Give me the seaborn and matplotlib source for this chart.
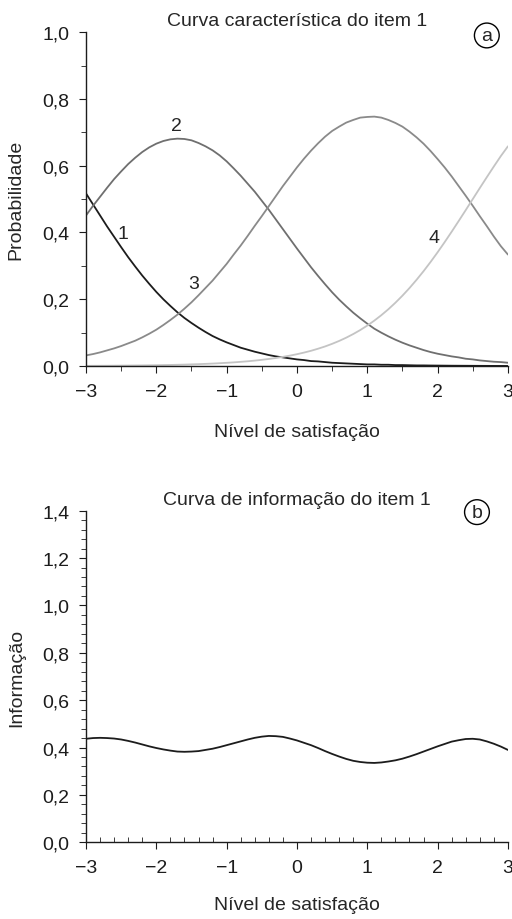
import pandas as pd
import numpy as np
import matplotlib
matplotlib.use("Agg")
import matplotlib.pyplot as plt
import seaborn as sns
from matplotlib.ticker import MultipleLocator, FuncFormatter

# Nível de satisfação (theta)
theta = [-3.0, -2.9, -2.8, -2.7, -2.6, -2.5, -2.4, -2.3, -2.2, -2.1,
         -2.0, -1.9, -1.8, -1.7, -1.6, -1.5, -1.4, -1.3, -1.2, -1.1,
         -1.0, -0.9, -0.8, -0.7, -0.6, -0.5, -0.4, -0.3, -0.2, -0.1,
         0.0, 0.1, 0.2, 0.3, 0.4, 0.5, 0.6, 0.7, 0.8, 0.9,
         1.0, 1.1, 1.2, 1.3, 1.4, 1.5, 1.6, 1.7, 1.8, 1.9,
         2.0, 2.1, 2.2, 2.3, 2.4, 2.5, 2.6, 2.7, 2.8, 2.9, 3.0]

p_cat1 = [0.517, 0.484, 0.451, 0.418, 0.387, 0.356, 0.326, 0.298, 0.271, 0.246,
          0.222, 0.200, 0.180, 0.161, 0.144, 0.129, 0.115, 0.102, 0.090, 0.080,
          0.071, 0.063, 0.055, 0.049, 0.043, 0.038, 0.033, 0.029, 0.026, 0.023,
          0.020, 0.018, 0.015, 0.014, 0.012, 0.010, 0.009, 0.008, 0.007, 0.006,
          0.005, 0.005, 0.004, 0.004, 0.003, 0.003, 0.0025, 0.002, 0.002, 0.0017,
          0.0015, 0.0013, 0.0011, 0.0010, 0.0009, 0.0008, 0.0007, 0.0006, 0.0005, 0.0004, 0.0004]
p_cat2 = [0.451, 0.480, 0.507, 0.534, 0.560, 0.583, 0.605, 0.624, 0.641, 0.655,
          0.666, 0.674, 0.679, 0.681, 0.680, 0.676, 0.668, 0.658, 0.646, 0.631,
          0.613, 0.592, 0.570, 0.546, 0.522, 0.495, 0.468, 0.439, 0.410, 0.381,
          0.352, 0.324, 0.296, 0.270, 0.245, 0.221, 0.199, 0.179, 0.160, 0.143,
          0.127, 0.112, 0.100, 0.089, 0.079, 0.070, 0.062, 0.055, 0.048, 0.042,
          0.037, 0.033, 0.029, 0.026, 0.022, 0.020, 0.017, 0.015, 0.013, 0.012, 0.010]
p_cat3 = [0.032, 0.036, 0.041, 0.047, 0.053, 0.060, 0.068, 0.076, 0.086, 0.097,
          0.109, 0.123, 0.138, 0.154, 0.172, 0.191, 0.212, 0.234, 0.256, 0.281,
          0.306, 0.334, 0.361, 0.390, 0.420, 0.449, 0.479, 0.509, 0.539, 0.567,
          0.595, 0.621, 0.645, 0.667, 0.687, 0.704, 0.717, 0.729, 0.737, 0.744,
          0.746, 0.747, 0.744, 0.737, 0.728, 0.717, 0.702, 0.685, 0.666, 0.644,
          0.620, 0.595, 0.568, 0.539, 0.510, 0.480, 0.449, 0.419, 0.388, 0.359, 0.334]
p_cat4 = [0.0007, 0.0008, 0.0009, 0.0010, 0.0012, 0.0014, 0.0016, 0.0018, 0.0020, 0.0023,
          0.0026, 0.0030, 0.0034, 0.0039, 0.0044, 0.0051, 0.0058, 0.0066, 0.0075, 0.0086,
          0.0098, 0.0111, 0.0127, 0.0144, 0.0164, 0.0187, 0.0213, 0.0242, 0.0276, 0.0313,
          0.0356, 0.0404, 0.0458, 0.0520, 0.0588, 0.0666, 0.0753, 0.0850, 0.0959, 0.1079,
          0.1213, 0.1361, 0.1524, 0.1702, 0.1897, 0.2108, 0.2336, 0.2581, 0.2841, 0.3117,
          0.3407, 0.3710, 0.4023, 0.4344, 0.4670, 0.5000, 0.5330, 0.5656, 0.5977, 0.6290, 0.6580]

# curva de informação do item
info = [0.437, 0.440, 0.441, 0.440, 0.438, 0.434, 0.428, 0.421, 0.413, 0.405,
        0.398, 0.392, 0.387, 0.383, 0.382, 0.383, 0.385, 0.390, 0.395, 0.402,
        0.410, 0.418, 0.426, 0.434, 0.441, 0.446, 0.449, 0.448, 0.445, 0.438,
        0.430, 0.420, 0.410, 0.398, 0.385, 0.373, 0.362, 0.352, 0.344, 0.339,
        0.336, 0.335, 0.337, 0.341, 0.346, 0.353, 0.362, 0.372, 0.383, 0.394,
        0.405, 0.415, 0.425, 0.431, 0.436, 0.437, 0.434, 0.426, 0.416, 0.404, 0.390]

categorias = ["1", "2", "3", "4"]
cores = {"1": "#1c1c1c", "2": "#6f6f6f", "3": "#8a8a8a", "4": "#c4c4c4"}
rotulos = {"1": (-2.48, 0.396), "2": (-1.71, 0.721), "3": (-1.47, 0.246), "4": (1.95, 0.386)}

df = pd.DataFrame({
    "theta": theta * 4,
    "prob": p_cat1 + p_cat2 + p_cat3 + p_cat4,
    "cat": [c for c in categorias for _ in theta],
})
df_info = pd.DataFrame({"theta": theta, "info": info})

sns.set_style("ticks")
plt.rcParams["font.family"] = ["Liberation Sans", "DejaVu Sans"]
plt.rcParams["axes.linewidth"] = 1.0
plt.rcParams["xtick.major.size"] = 5
plt.rcParams["ytick.major.size"] = 5
plt.rcParams["xtick.minor.size"] = 3.5
plt.rcParams["ytick.minor.size"] = 3.5
plt.rcParams["xtick.major.pad"] = 7
plt.rcParams["ytick.major.pad"] = 7

virgula = FuncFormatter(lambda v, p: f"{v:.1f}".replace(".", ","))
FS = 14

fig = plt.figure(figsize=(5.12, 9.2), dpi=100)
ax1 = fig.add_axes([0.168, 0.601, 0.824, 0.363])
ax2 = fig.add_axes([0.168, 0.0834, 0.824, 0.3604])

# (a) curva característica
sns.lineplot(data=df, x="theta", y="prob", hue="cat", palette=cores, legend=False,
             linewidth=1.3, ax=ax1)
for c, (x, y) in rotulos.items():
    ax1.text(x, y, c, fontsize=FS, ha="center", va="center")
ax1.set_xlim(-3, 3)
ax1.set_ylim(0, 1.0)
ax1.xaxis.set_major_locator(MultipleLocator(1))
ax1.xaxis.set_minor_locator(MultipleLocator(0.5))
ax1.yaxis.set_major_locator(MultipleLocator(0.2))
ax1.yaxis.set_minor_locator(MultipleLocator(0.1))
ax1.yaxis.set_major_formatter(virgula)
ax1.set_title("Curva característica do item 1", fontsize=FS, pad=5)
ax1.set_xlabel("Nível de satisfação", fontsize=FS)
ax1.set_ylabel("Probabilidade", fontsize=FS)
ax1.xaxis.set_label_coords(0.5, -0.171)
ax1.yaxis.set_label_coords(-0.145, 0.5)
ax1.text(2.70, 0.99, "a", fontsize=FS, ha="center", va="center",
         bbox=dict(boxstyle="circle,pad=0.2", fc="white", ec="black", lw=1.0))

# (b) curva de informação
sns.lineplot(data=df_info, x="theta", y="info", color="#1c1c1c", linewidth=1.3, ax=ax2)
ax2.set_xlim(-3, 3)
ax2.set_ylim(0, 1.4)
ax2.xaxis.set_major_locator(MultipleLocator(1))
ax2.xaxis.set_minor_locator(MultipleLocator(0.2))
ax2.yaxis.set_major_locator(MultipleLocator(0.2))
ax2.yaxis.set_minor_locator(MultipleLocator(0.04))
ax2.yaxis.set_major_formatter(virgula)
ax2.tick_params(axis="x", which="minor", direction="in", length=3.5)
ax2.set_title("Curva de informação do item 1", fontsize=FS, pad=5)
ax2.set_xlabel("Nível de satisfação", fontsize=FS)
ax2.set_ylabel("Informação", fontsize=FS)
ax2.xaxis.set_label_coords(0.5, -0.163)
ax2.yaxis.set_label_coords(-0.145, 0.5)
ax2.text(2.56, 1.394, "b", fontsize=FS, ha="center", va="center",
         bbox=dict(boxstyle="circle,pad=0.2", fc="white", ec="black", lw=1.0))

for ax in (ax1, ax2):
    sns.despine(ax=ax)
    ax.tick_params(which="both", labelsize=FS, colors="#1c1c1c")
    for s in ax.spines.values():
        s.set_color("#1c1c1c")

fig.savefig("out.png", dpi=100)
